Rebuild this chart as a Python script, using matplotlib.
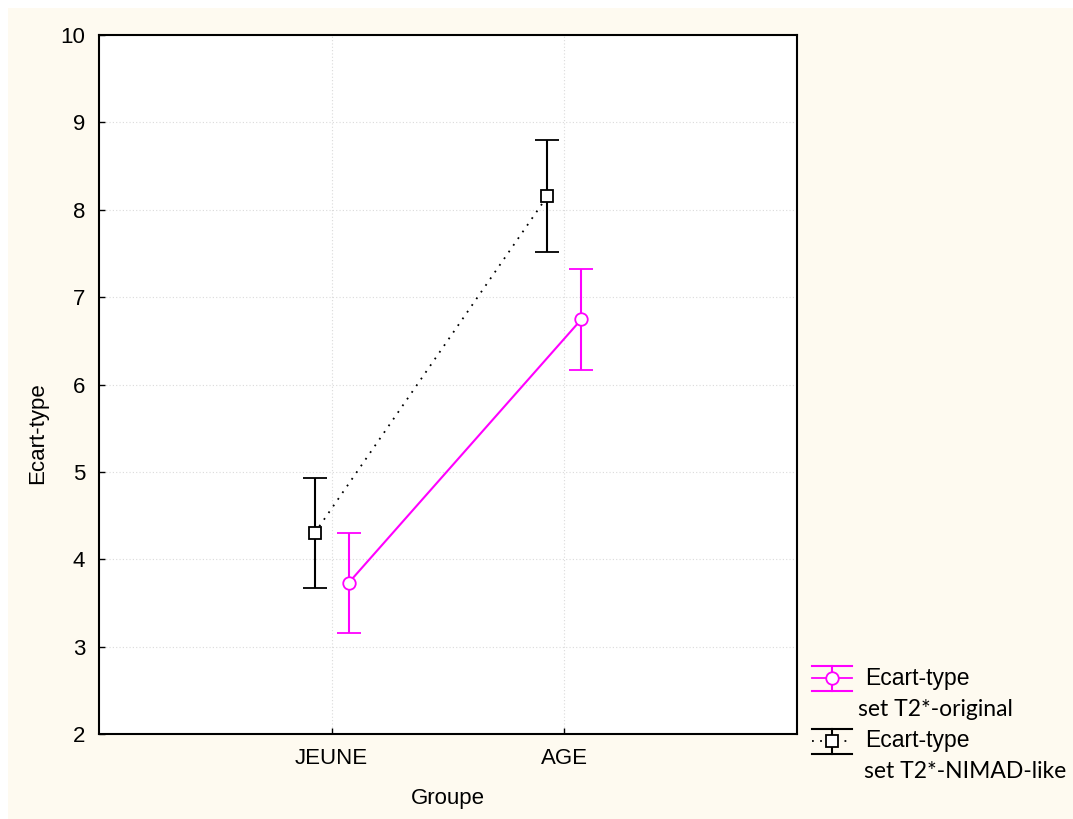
import matplotlib.pyplot as plt
from matplotlib.lines import Line2D
from matplotlib.patches import Rectangle

plt.rcParams['font.family'] = ['Liberation Sans', 'DejaVu Sans']

groups = ["JEUNE", "AGE"]
orig_mean = [3.73, 6.745]
orig_err = [0.57, 0.575]
nimad_mean = [4.30, 8.155]
nimad_err = [0.625, 0.64]

W, H = 1073, 819
fig = plt.figure(figsize=(W / 100, H / 100), dpi=100, facecolor='white')
cream = '#FEFAF0'
fig.add_artist(Rectangle((8 / W, 0), 1 - 8 / W, 1 - 8 / H, transform=fig.transFigure,
                         facecolor=cream, edgecolor='none', zorder=-10))

ax = fig.add_axes([99 / W, 1 - 734 / H, (797 - 99) / W, (734 - 35) / H])
ax.set_facecolor('white')

x = list(range(len(groups)))
off = 0.073
magenta = '#FF00FF'

ax.errorbar([i - off for i in x], nimad_mean, yerr=nimad_err, color='black',
            linestyle=(0, (1, 3.5)), linewidth=1.3, marker='s', markersize=8,
            markerfacecolor='white', markeredgecolor='black', markeredgewidth=1.3,
            ecolor='black', elinewidth=1.5, capsize=8.5, capthick=1.5, zorder=3)
ax.errorbar([i + off for i in x], orig_mean, yerr=orig_err, color=magenta,
            linestyle='-', linewidth=1.5, marker='o', markersize=9,
            markerfacecolor='white', markeredgecolor=magenta, markeredgewidth=1.3,
            ecolor=magenta, elinewidth=1.5, capsize=8.5, capthick=1.5, zorder=3)

ax.set_xlim(-1, 2)
ax.set_ylim(2, 10)
ax.set_xticks(x)
ax.set_xticklabels(groups)
ax.set_yticks(range(2, 11))
ax.tick_params(direction='in', length=4, width=1, labelsize=16, pad=10)
ax.grid(True, linestyle=(0, (1, 2)), color='#DADADA', linewidth=0.8)
ax.set_axisbelow(True)
for s in ax.spines.values():
    s.set_linewidth(1.5)
ax.set_xlabel('Groupe', fontsize=16, labelpad=14)
ax.set_ylabel('Ecart-type', fontsize=16)
ax.yaxis.set_label_coords(-0.073, 0.43)


def fx(px):
    return px / W


def fy(py):
    return 1 - py / H


def legend_entry(yc, color, ls, marker, ms, line2, x2):
    tr = fig.transFigure
    for yy in (yc - 12.5, yc + 12.5):
        fig.add_artist(Line2D([fx(812), fx(852)], [fy(yy), fy(yy)], color=color, lw=1.5, transform=tr))
    fig.add_artist(Line2D([fx(832), fx(832)], [fy(yc - 12.5), fy(yc + 12.5)], color=color, lw=1.5, transform=tr))
    fig.add_artist(Line2D([fx(812), fx(852)], [fy(yc), fy(yc)], color=color, lw=1.3, linestyle=ls, transform=tr))
    fig.add_artist(Line2D([fx(832)], [fy(yc)], color=color, marker=marker, markersize=ms,
                          markerfacecolor='white', markeredgecolor=color, markeredgewidth=1.3,
                          linestyle='none', transform=tr))
    fig.text(fx(865), fy(yc), 'Ecart-type', fontsize=16.5, va='center', ha='left')
    fig.text(fx(x2), fy(yc + 31), line2, fontsize=16.5, va='center', ha='left',
             family=['Lato', 'DejaVu Sans'])


legend_entry(678, magenta, '-', 'o', 9, 'set T2*-original', 858)
legend_entry(741, 'black', (0, (1, 3.5)), 's', 8, 'set T2*-NIMAD-like', 864)

fig.savefig('out.png', dpi=100, facecolor='white')
